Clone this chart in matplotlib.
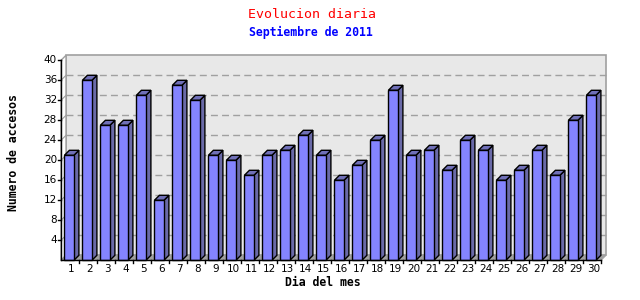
import matplotlib
matplotlib.use("Agg")
import matplotlib.pyplot as plt
from matplotlib.patches import Polygon, Rectangle

days = list(range(1, 31))
values = [21, 36, 27, 27, 33, 12, 35, 32, 21, 20, 17, 21, 22, 25, 21,
          16, 19, 24, 34, 21, 22, 18, 24, 22, 16, 18, 22, 17, 28, 33]
yticks = [4, 8, 12, 16, 20, 24, 28, 32, 36, 40]
title = "Evolucion diaria"
subtitle = "Septiembre de 2011"
xlabel = "Dia del mes"
ylabel = "Numero de accesos"

W, H = 640, 300
fig = plt.figure(figsize=(W / 100, H / 100), dpi=100)
fig.patch.set_facecolor("white")

# axes in pixel geometry
left_px, right_px = 61, 601
bottom_px, top_px = 260.3, 60.3
ax = fig.add_axes([left_px / W, (H - bottom_px) / H,
                   (right_px - left_px) / W, (bottom_px - top_px) / H])
ax.set_xlim(0.5, 30.5)
ax.set_ylim(0, 40)
ax.axis("off")

px_x = 30 / (right_px - left_px)      # data units per pixel (x)
px_y = 40 / (bottom_px - top_px)      # data units per pixel (y)
depth = 5
dx, dy = depth * px_x, depth * px_y
x0, x1 = 0.5, 30.5

# back wall
ax.add_patch(Polygon([(x0 + dx, dy), (x1 + dx, dy), (x1 + dx, 40 + dy), (x0 + dx, 40 + dy)],
                     closed=True, facecolor="#e8e8e8", edgecolor="#a0a0a0", lw=1.2,
                     clip_on=False, zorder=1))
# left wall
ax.add_patch(Polygon([(x0, 0), (x0 + dx, dy), (x0 + dx, 40 + dy), (x0, 40)],
                     closed=True, facecolor="white", edgecolor="#a0a0a0", lw=1.0,
                     clip_on=False, zorder=1))
# floor
ax.add_patch(Polygon([(x0, 0), (x1, 0), (x1 + dx, dy), (x0 + dx, dy)],
                     closed=True, facecolor="#a0a0a0", edgecolor="#a0a0a0", lw=0.8,
                     clip_on=False, zorder=1))
# grid lines
for t in yticks[:-1]:
    ax.plot([x0 + dx, x1 + dx], [t + dy, t + dy], color="#a0a0a0", lw=1.0,
            ls=(0, (5, 3)), zorder=2, clip_on=False)
    ax.plot([x0, x0 + dx], [t, t + dy], color="#a0a0a0", lw=0.8, zorder=2, clip_on=False)

# bars
front_off = 3.4 * px_x
bw = 9.5 * px_x
for d, v in zip(days, values):
    xl = d - 0.5 + front_off
    xr = xl + bw
    ax.add_patch(Polygon([(xr, 0), (xr + dx, dy), (xr + dx, v + dy), (xr, v)],
                         closed=True, facecolor="#6a6aa8", edgecolor="black", lw=1.0,
                         zorder=3, clip_on=False, joinstyle="miter"))
    ax.add_patch(Polygon([(xl, v), (xr, v), (xr + dx, v + dy), (xl + dx, v + dy)],
                         closed=True, facecolor="#7070b8", edgecolor="black", lw=1.0,
                         zorder=3, clip_on=False, joinstyle="miter"))
    ax.add_patch(Rectangle((xl, 0), bw, v, facecolor="#8484ff", edgecolor="black",
                           lw=1.0, zorder=4, clip_on=False, joinstyle="miter"))

# axes lines
ax.plot([x0, x0], [0, 40], color="black", lw=1.0, zorder=5, clip_on=False)
ax.plot([x0, x1], [0, 0], color="black", lw=1.0, zorder=5, clip_on=False)
for t in yticks:
    ax.plot([x0 - 3 * px_x, x0], [t, t], color="black", lw=1.0, zorder=5, clip_on=False)
    ax.text(x0 - 4 * px_x, t, str(t), ha="right", va="center", fontsize=7.5,
            family="DejaVu Sans", color="black")
for k in range(1, 31):
    xb = k + 0.5
    ax.plot([xb, xb], [0, -3 * px_y], color="black", lw=1.0, zorder=5, clip_on=False)
for d in days:
    ax.text(d + 1.5 * px_x, -9 * px_y, str(d), ha="center", va="center", fontsize=7.5,
            family="DejaVu Sans", color="black")

fig.text(312 / W, 1 - 14 / H, title, ha="center", va="center", color="red",
         fontsize=9.5, family="DejaVu Sans Mono")
fig.text(310.5 / W, 1 - 32 / H, subtitle, ha="center", va="center", color="blue",
         fontsize=8.3, family="DejaVu Sans Mono", fontweight="bold")
fig.text(323 / W, 1 - 282 / H, xlabel, ha="center", va="center", color="black",
         fontsize=8.3, family="DejaVu Sans Mono", fontweight="bold")
fig.text(14 / W, 1 - 153 / H, ylabel, ha="center", va="center", color="black",
         fontsize=8.3, family="DejaVu Sans Mono", fontweight="bold", rotation=90)

fig.savefig("out.png", dpi=100, facecolor="white")
